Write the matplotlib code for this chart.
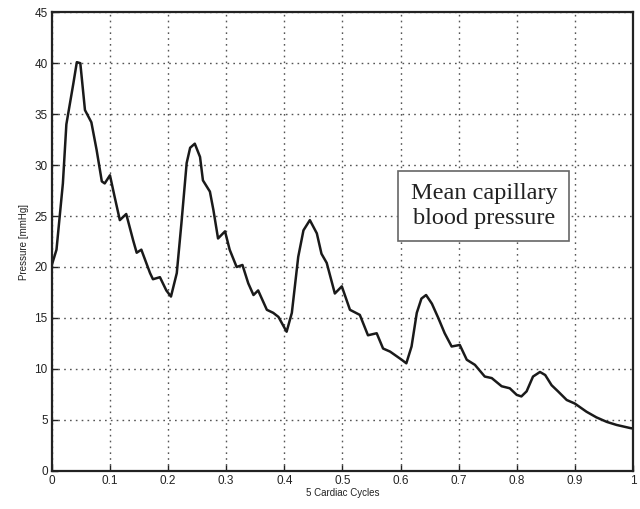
import matplotlib
matplotlib.use("Agg")
import matplotlib.pyplot as plt

# normalised time over 5 cardiac cycles, pressure in mmHg
cycles = [0.000, 0.008, 0.019, 0.025, 0.037, 0.043, 0.049, 0.057, 0.068, 0.077,
          0.086, 0.091, 0.100, 0.108, 0.117, 0.128, 0.140, 0.146, 0.154, 0.169,
          0.174, 0.186, 0.197, 0.205, 0.215, 0.223, 0.232, 0.238, 0.246, 0.255,
          0.260, 0.272, 0.278, 0.286, 0.298, 0.306, 0.318, 0.328, 0.338, 0.347,
          0.355, 0.370, 0.381, 0.390, 0.404, 0.413, 0.424, 0.433, 0.444, 0.456,
          0.464, 0.473, 0.487, 0.499, 0.513, 0.530, 0.544, 0.559, 0.570, 0.582,
          0.602, 0.610, 0.619, 0.628, 0.636, 0.644, 0.654, 0.665, 0.676, 0.688,
          0.702, 0.714, 0.728, 0.745, 0.757, 0.774, 0.788, 0.800, 0.808, 0.817,
          0.828, 0.840, 0.849, 0.860, 0.871, 0.886, 0.900, 0.920, 0.937, 0.955,
          0.972, 0.995, 1.000]
pressure = [20.2, 21.7, 28.2, 34.0, 38.0, 40.1, 40.0, 35.4, 34.2, 31.5,
            28.4, 28.2, 29.0, 26.9, 24.6, 25.2, 22.6, 21.4, 21.7, 19.4,
            18.8, 19.0, 17.7, 17.1, 19.4, 24.3, 30.2, 31.7, 32.1, 30.8,
            28.5, 27.4, 25.6, 22.8, 23.5, 21.7, 20.0, 20.2, 18.4, 17.25,
            17.7, 15.8, 15.5, 15.1, 13.65, 15.5, 21.0, 23.6, 24.6, 23.3,
            21.3, 20.4, 17.4, 18.1, 15.8, 15.3, 13.3, 13.5, 12.0, 11.7,
            10.9, 10.55, 12.2, 15.5, 16.9, 17.25, 16.4, 15.0, 13.5, 12.2,
            12.35, 10.9, 10.4, 9.25, 9.1, 8.3, 8.1, 7.45, 7.3, 7.8,
            9.25, 9.7, 9.4, 8.4, 7.8, 6.95, 6.6, 5.8, 5.25, 4.8,
            4.5, 4.2, 4.15]

xticks = [0, 0.1, 0.2, 0.3, 0.4, 0.5, 0.6, 0.7, 0.8, 0.9, 1]
xticklabels = ["0", "0.1", "0.2", "0.3", "0.4", "0.5", "0.6", "0.7", "0.8", "0.9", "1"]
yticks = [0, 5, 10, 15, 20, 25, 30, 35, 40, 45]

plt.rcParams['font.family'] = ['Liberation Sans', 'DejaVu Sans']

fig = plt.figure(figsize=(6.4, 5.09), dpi=100)
ax = fig.add_axes([0.081, 0.075, 0.908, 0.901])

ax.plot(cycles, pressure, color="#1a1a1a", linewidth=1.8, solid_joinstyle="round")

ax.set_xlim(0, 1)
ax.set_ylim(0, 45)
ax.set_xticks(xticks)
ax.set_xticklabels(xticklabels)
ax.set_yticks(yticks)
ax.tick_params(direction="in", length=4, width=1, labelsize=8.5, colors="#222222", pad=3)
ax.grid(True, color="#555555", linestyle=(0, (1.2, 3)), linewidth=1.0)
for s in ax.spines.values():
    s.set_linewidth(1.6)
    s.set_color("#222222")

ax.set_xlabel("5 Cardiac Cycles", fontsize=7, color="#222222", labelpad=1)
ax.set_ylabel("Pressure [mmHg]", fontsize=7, color="#222222", labelpad=4)

ax.text(0.7435, 26.0, "Mean capillary\nblood pressure", family="Liberation Serif",
        fontsize=17.5, ha="center", va="center", linespacing=1.25, color="#222222",
        bbox=dict(boxstyle="square,pad=0.5", facecolor="white", edgecolor="#666666", linewidth=1.2))

fig.savefig("out.png", dpi=100)
